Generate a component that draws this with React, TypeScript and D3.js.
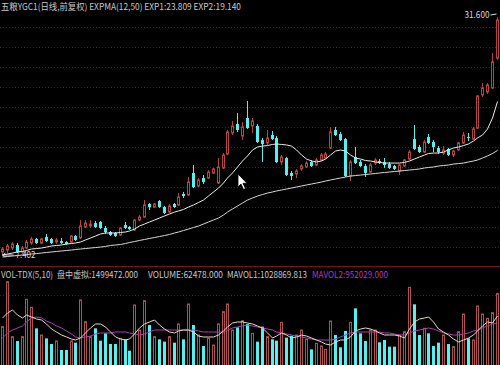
import React from 'react';
import * as d3 from 'd3';

// ---- data (prices in yuan, volume in thousands of shares) ----
const OPEN = [7.71, 7.91, 8.11, 8.42, 7.71, 8.11, 8.62, 9.03, 8.62, 9.23,
  9.03, 8.72, 8.82, 8.72, 8.72, 9.33, 9.13, 10.25, 10.35, 10.65,
  10.76, 10.15, 9.74, 9.64, 9.43, 10.45, 10.25, 9.94, 10.96, 11.26,
  12.59, 12.28, 12.89, 12.28, 11.77, 12.59, 12.49, 13.60, 13.50, 15.74,
  14.42, 15.23, 15.23, 15.74, 14.72, 16.25, 17.67, 19.81, 20.72, 19.50,
  21.33, 20.52, 20.52, 19.09, 18.79, 19.60, 19.30, 16.86, 17.26, 15.74,
  15.64, 16.15, 16.35, 16.86, 16.55, 17.06, 17.26, 18.28, 20.11, 19.70,
  19.19, 15.43, 17.37, 16.86, 16.45, 15.84, 16.75, 16.96, 16.86, 16.65,
  16.45, 15.94, 16.45, 17.16, 19.19, 18.38, 17.87, 19.40, 18.89, 18.28,
  17.77, 18.18, 17.57, 18.08, 18.79, 19.40, 19.19, 20.31, 23.67, 23.97,
  24.38, 27.43];
const HIGH = [8.21, 8.52, 8.72, 8.62, 8.32, 8.93, 9.23, 9.13, 9.13, 9.54,
  9.13, 9.13, 9.13, 8.82, 9.43, 9.43, 10.96, 10.96, 10.96, 10.86,
  10.86, 10.35, 9.84, 9.74, 10.25, 10.76, 10.35, 11.06, 11.47, 12.99,
  12.69, 12.69, 12.99, 12.38, 12.59, 12.69, 13.70, 13.81, 15.33, 16.55,
  15.23, 15.53, 16.04, 16.25, 17.26, 17.77, 20.11, 21.03, 21.84, 20.92,
  23.06, 21.33, 20.72, 19.30, 20.11, 20.01, 19.50, 17.57, 17.37, 15.94,
  16.15, 16.65, 16.96, 17.06, 17.26, 17.77, 17.87, 20.42, 20.42, 19.91,
  19.30, 17.06, 18.38, 17.06, 16.65, 16.75, 17.26, 17.16, 17.26, 16.86,
  16.55, 16.65, 17.16, 18.08, 20.62, 18.59, 19.09, 19.70, 19.09, 18.48,
  18.48, 18.28, 18.08, 18.89, 19.91, 19.81, 20.42, 23.67, 24.89, 24.89,
  27.94, 31.60];
const LOW = [7.402, 7.60, 7.91, 7.60, 7.50, 8.01, 8.42, 8.52, 8.52, 8.72,
  8.52, 8.52, 8.52, 8.42, 8.62, 8.82, 9.03, 10.15, 10.15, 10.15,
  10.04, 9.54, 9.33, 9.23, 9.33, 10.04, 9.94, 9.84, 10.86, 11.16,
  11.98, 12.18, 12.18, 11.57, 11.67, 12.18, 12.38, 13.20, 13.40, 14.21,
  14.31, 14.62, 15.13, 15.64, 14.62, 16.15, 17.57, 19.60, 19.91, 19.09,
  20.21, 19.81, 18.79, 16.86, 18.59, 19.09, 16.75, 16.55, 15.43, 15.03,
  15.23, 15.94, 16.25, 16.35, 16.45, 16.96, 17.16, 18.18, 19.50, 18.99,
  15.33, 14.92, 16.65, 16.35, 15.33, 15.74, 16.55, 16.65, 16.25, 16.15,
  16.04, 15.53, 16.35, 17.06, 18.08, 17.77, 17.77, 18.69, 17.87, 17.67,
  17.57, 17.47, 17.37, 17.97, 18.69, 18.99, 19.09, 20.21, 23.47, 23.77,
  24.28, 27.23];
const CLOSE = [8.01, 8.32, 8.52, 7.71, 8.11, 8.72, 9.03, 8.62, 9.03, 8.82,
  8.62, 8.93, 8.62, 8.52, 9.33, 8.93, 10.35, 10.65, 10.55, 10.25,
  10.15, 9.74, 9.43, 9.33, 10.15, 10.15, 10.04, 10.96, 11.26, 12.49,
  12.28, 12.59, 12.28, 11.67, 12.38, 12.28, 13.30, 13.40, 14.82, 14.31,
  15.03, 14.82, 15.84, 16.15, 16.35, 17.57, 19.91, 20.52, 20.11, 20.42,
  20.31, 21.03, 18.89, 18.69, 19.30, 19.19, 16.86, 17.37, 15.53, 15.43,
  15.94, 16.45, 16.75, 16.45, 17.06, 17.57, 17.67, 19.91, 19.60, 19.09,
  15.43, 16.86, 16.75, 16.45, 15.74, 16.55, 17.06, 16.75, 16.55, 16.25,
  16.15, 16.55, 17.06, 17.87, 18.18, 17.87, 18.89, 18.79, 18.38, 17.87,
  18.08, 17.57, 17.97, 18.79, 19.60, 19.30, 20.21, 23.57, 24.38, 24.69,
  27.03, 31.30];
const VOLUME = [912, 1984, 675, 571, 675, 1563, 1373, 873, 714, 635,
  500, 571, 357, 357, 571, 532, 1548, 1032, 675, 873,
  579, 754, 500, 500, 635, 611, 341, 1429, 833, 1532,
  952, 675, 611, 556, 675, 532, 976, 611, 1452, 952,
  714, 452, 635, 476, 976, 1270, 1452, 833, 897, 1056,
  976, 754, 556, 913, 675, 611, 579, 1016, 651, 698,
  714, 833, 611, 373, 516, 452, 373, 1048, 714, 421,
  810, 1016, 1349, 754, 571, 833, 833, 540, 595, 437,
  437, 714, 794, 1849, 1444, 714, 873, 754, 452, 532,
  714, 500, 437, 794, 1214, 635, 595, 1405, 1214, 1111,
  1246, 1700];
const EXP1 = [7.40, 7.50, 7.60, 7.71, 7.76, 7.86, 8.01, 8.06, 8.11, 8.21,
  8.32, 8.37, 8.42, 8.52, 8.57, 8.62, 8.72, 8.93, 9.13, 9.33,
  9.54, 9.64, 9.64, 9.64, 9.69, 9.74, 9.84, 10.04, 10.35, 10.55,
  10.76, 10.96, 11.16, 11.37, 11.57, 11.77, 11.88, 12.03, 12.28, 12.49,
  12.74, 12.99, 13.40, 13.81, 14.21, 14.72, 15.23, 15.74, 16.35, 16.96,
  17.47, 18.08, 18.38, 18.48, 18.53, 18.64, 18.69, 18.64, 18.59, 18.48,
  18.08, 17.57, 17.16, 16.96, 16.86, 16.96, 17.16, 17.57, 17.97, 18.08,
  17.97, 17.57, 17.26, 17.16, 17.01, 16.96, 16.86, 16.81, 16.75, 16.75,
  16.75, 16.75, 16.81, 16.96, 17.16, 17.37, 17.57, 17.72, 17.77, 17.77,
  17.87, 18.08, 18.28, 18.38, 18.53, 18.69, 18.99, 19.30, 19.60, 20.21,
  21.33, 23.00];
const EXP2 = [7.20, 7.25, 7.30, 7.35, 7.40, 7.45, 7.50, 7.55, 7.60, 7.66,
  7.71, 7.76, 7.81, 7.86, 7.91, 7.96, 8.01, 8.06, 8.11, 8.16,
  8.21, 8.27, 8.37, 8.42, 8.47, 8.57, 8.67, 8.77, 8.88, 8.98,
  9.08, 9.18, 9.28, 9.38, 9.49, 9.64, 9.74, 9.89, 10.04, 10.20,
  10.35, 10.55, 10.76, 10.96, 11.16, 11.47, 11.77, 12.08, 12.38, 12.69,
  12.99, 13.20, 13.40, 13.55, 13.70, 13.81, 13.91, 14.01, 14.11, 14.21,
  14.31, 14.42, 14.52, 14.62, 14.72, 14.82, 14.92, 15.03, 15.13, 15.23,
  15.33, 15.43, 15.48, 15.53, 15.58, 15.64, 15.69, 15.74, 15.79, 15.84,
  15.89, 15.94, 15.99, 16.04, 16.09, 16.15, 16.25, 16.30, 16.35, 16.45,
  16.50, 16.55, 16.65, 16.70, 16.75, 16.86, 16.96, 17.06, 17.26, 17.47,
  17.72, 18.03];
const MAVOL1 = [1119, 1238, 1310, 1190, 1119, 1190, 1143, 1095, 1071, 976,
  857, 786, 714, 667, 619, 595, 643, 762, 881, 976,
  976, 905, 786, 667, 619, 595, 619, 738, 881, 976,
  1024, 1071, 952, 857, 786, 762, 810, 833, 833, 786,
  690, 667, 667, 667, 714, 810, 905, 1000, 1024, 1024,
  1000, 976, 929, 881, 762, 643, 690, 762, 714, 643,
  667, 714, 690, 643, 595, 548, 500, 476, 548, 595,
  595, 667, 810, 857, 881, 857, 810, 762, 714, 714,
  714, 690, 643, 857, 1024, 1095, 1119, 1143, 1024, 857,
  786, 714, 619, 548, 595, 643, 714, 810, 929, 1024,
  1000, 1167];
const MAVOL2 = [643, 762, 833, 881, 929, 1024, 1119, 1143, 1119, 1048,
  1000, 929, 881, 810, 738, 667, 643, 667, 690, 738,
  762, 762, 762, 786, 786, 786, 762, 738, 714, 738,
  786, 833, 833, 833, 833, 833, 833, 833, 833, 833,
  810, 786, 786, 786, 786, 786, 833, 881, 905, 929,
  952, 929, 905, 881, 857, 833, 786, 762, 738, 714,
  690, 667, 643, 619, 595, 595, 595, 595, 619, 667,
  714, 762, 786, 786, 786, 786, 786, 786, 762, 762,
  738, 714, 714, 762, 810, 833, 857, 881, 857, 810,
  762, 738, 714, 714, 738, 762, 810, 833, 881, 929,
  976, 1000];

const TITLE = '五粮YGC1(日线,前复权) EXPMA(12,50) EXP1:23.809 EXP2:19.140';
const VOL_LABELS = [
  { text: 'VOL-TDX(5,10)', x: 1, w: 52, color: '#c8c8c8' },
  { text: '盘中虚拟:1499472.000', x: 57, w: 81, color: '#c8c8c8' },
  { text: 'VOLUME:62478.000', x: 148, w: 75, color: '#c8c8c8' },
  { text: 'MAVOL1:1028869.813', x: 227, w: 80, color: '#c8c8c8' },
  { text: 'MAVOL2:952029.000', x: 312, w: 76, color: '#b23cb8' },
];

const W = 500;
const H = 365;
const UP = '#b8433f';
const UP_VOL = '#b05050';
const DOWN = '#55f0f0';
const GRID = '#6a1616';
const FONT = '"Noto Sans CJK SC", "DejaVu Sans", sans-serif';

export default function App() {
  const N = CLOSE.length;
  const idx = d3.range(N);
  const x = d3.scaleBand<number>().domain(idx).range([0, W]).paddingInner(0.4).paddingOuter(0.2);
  const cx = (i: number) => Math.round((x(i) as number) + x.bandwidth() / 2 - 0.5) + 0.5;

  const hi = d3.max(HIGH) as number;
  const lo = d3.min(LOW) as number;
  const iHi = HIGH.indexOf(hi);
  const iLo = LOW.indexOf(lo);
  const y = d3.scaleLinear().domain([lo, hi]).range([255, 17]);
  const yv = d3.scaleLinear().domain([0, 1000]).range([365, 323]);

  const priceLine = (arr: number[]) =>
    d3.line<number>().x((i) => cx(i)).y((i) => y(arr[i])).curve(d3.curveLinear)(idx) as string;
  const volLine = (arr: number[]) =>
    d3.line<number>().x((i) => cx(i)).y((i) => yv(arr[i])).curve(d3.curveLinear)(idx) as string;

  const gridYs = d3.range(12).map((k) => 27.5 + k * 20);

  return (
    <svg
      width={W}
      height={H}
      style={{ position: 'absolute', left: 0, top: 0, background: '#000' }}
      xmlns="http://www.w3.org/2000/svg"
    >
      <rect x={0} y={0} width={W} height={H} fill="#000" />
      {/* price grid */}
      {gridYs.map((gy) => (
        <line key={gy} x1={0} x2={W} y1={gy} y2={gy} stroke={GRID} strokeWidth={1} strokeDasharray="1 2" />
      ))}
      {/* separator */}
      <line x1={0} x2={W} y1={266.5} y2={266.5} stroke="#7a1515" strokeWidth={1} />
      <line x1={0} x2={W} y1={295.5} y2={295.5} stroke={GRID} strokeWidth={1} strokeDasharray="1 2" />

      {/* candles */}
      {idx.map((i) => {
        const up = CLOSE[i] >= OPEN[i];
        const c = cx(i);
        const top = y(Math.max(OPEN[i], CLOSE[i]));
        const bot = y(Math.min(OPEN[i], CLOSE[i]));
        const h = Math.max(bot - top, 1);
        return (
          <g key={'c' + i}>
            <line x1={c} x2={c} y1={y(HIGH[i])} y2={y(LOW[i])} stroke={up ? UP : DOWN} strokeWidth={1} />
            {up ? (
              <rect x={c - 1} y={top} width={2} height={h} fill="#000" stroke={UP} strokeWidth={1} />
            ) : (
              <rect x={c - 1.5} y={top} width={3} height={h} fill={DOWN} />
            )}
          </g>
        );
      })}

      {/* EXPMA lines */}
      <path d={priceLine(EXP2)} fill="none" stroke="#d8d8d8" strokeWidth={1} />
      <path d={priceLine(EXP1)} fill="none" stroke="#ececec" strokeWidth={1} />

      {/* volume bars */}
      {idx.map((i) => {
        const up = CLOSE[i] >= OPEN[i];
        const c = cx(i);
        const top = yv(VOLUME[i]);
        return up ? (
          <rect key={'v' + i} x={c - 1} y={top} width={2} height={H + 2 - top} fill="#000" stroke={UP_VOL} strokeWidth={1} />
        ) : (
          <rect key={'v' + i} x={c - 1.5} y={top} width={3} height={H - top} fill={DOWN} />
        );
      })}
      <path d={volLine(MAVOL2)} fill="none" stroke="#b23cb8" strokeWidth={1} />
      <path d={volLine(MAVOL1)} fill="none" stroke="#e6dcc4" strokeWidth={1} />

      {/* max / min labels */}
      <text x={cx(iHi) - 33} y={y(hi) + 1} fontSize={9} fill="#d8d8d8" fontFamily={FONT} textLength={25} lengthAdjust="spacingAndGlyphs">
        {hi.toFixed(3)}
      </text>
      <line x1={cx(iHi) - 7} y1={y(hi) - 2} x2={cx(iHi) - 1} y2={y(hi) - 3} stroke="#d8d8d8" strokeWidth={1} />
      <line x1={cx(iLo)} y1={y(lo)} x2={cx(iLo) + 11} y2={y(lo)} stroke="#d8d8d8" strokeWidth={1} />
      <path d={`M${cx(iLo)},${y(lo)} l3,-2 M${cx(iLo)},${y(lo)} l3,2`} stroke="#d8d8d8" strokeWidth={1} fill="none" />
      <text x={cx(iLo) + 13} y={y(lo) + 3} fontSize={9} fill="#d8d8d8" fontFamily={FONT} textLength={20} lengthAdjust="spacingAndGlyphs">
        {lo.toFixed(3)}
      </text>

      {/* titles */}
      <text x={1} y={10} fontSize={9} fill="#c8c8c8" fontFamily={FONT} textLength={240} lengthAdjust="spacingAndGlyphs">
        {TITLE}
      </text>
      {VOL_LABELS.map((l) => (
        <text key={l.text} x={l.x} y={277.5} fontSize={9} fill={l.color} fontFamily={FONT} textLength={l.w} lengthAdjust="spacingAndGlyphs">
          {l.text}
        </text>
      ))}

      {/* mouse pointer */}
      <path
        d="M238,174 L238,187 L241,184 L243.5,189.5 L245.5,188.6 L243,183.3 L247,183.3 Z"
        fill="#ffffff"
        stroke="#000"
        strokeWidth={0.8}
      />
    </svg>
  );
}
